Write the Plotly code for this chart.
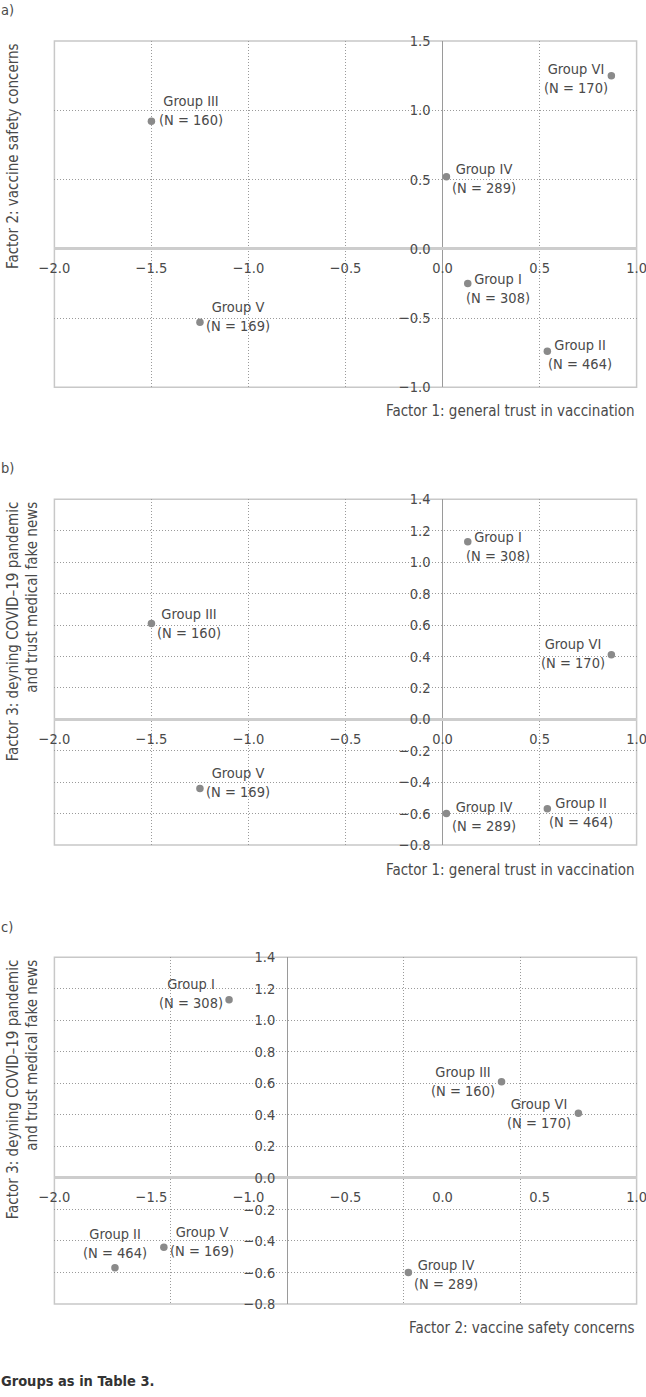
import plotly.graph_objects as go

# ---------------- data ----------------
groups = ["Group I", "Group II", "Group III", "Group IV", "Group V", "Group VI"]
n_sizes = [308, 464, 160, 289, 169, 170]
factor1 = [0.13, 0.54, -1.50, 0.02, -1.25, 0.87]
factor2 = [-0.25, -0.74, 0.92, 0.52, -0.53, 1.25]
factor3 = [1.13, -0.57, 0.61, -0.60, -0.44, 0.41]

title_f1 = "Factor 1: general trust in vaccination"
title_f2 = "Factor 2: vaccine safety concerns"
title_f3 = "Factor 3: deyning COVID–19 pandemic<br>and trust medical fake news"
caption = "Groups as in Table 3."

# ---------------- styling / layout ----------------
Wf, Hf = 646, 1397
FONT = "DejaVu Sans Condensed, Liberation Sans Narrow, sans-serif"
TXT = "#4a4a4a"
MARK = "#8a8a8a"
GRID = "#9a9a9a"
BORDER = "#c8c8c8"
FS = 14.5


def fx(px):   # pixel -> paper fraction (x)
    return px / Wf


def fy(py):   # pixel -> paper fraction (y)
    return 1 - py / Hf


plot_left, plot_right = 54.4, 636.6

panels = [
    dict(tag="a)", tag_y=10, x=factor1, y=factor2, xr=[-2.0, 1.0], yr=[-1.0, 1.5], ydt=0.5,
         top=41, bottom=387.3, xtitle=title_f1, xtitle_y=410.5, ytitle=title_f2,
         offs=[(30, 5), (33, 3.5), (40, -11), (38, 2), (38, -6), (-35, 3)],
         label_axis=None),
    dict(tag="b)", tag_y=468, x=factor1, y=factor3, xr=[-2.0, 1.0], yr=[-0.8, 1.4], ydt=0.2,
         top=499.3, bottom=845, xtitle=title_f1, xtitle_y=870, ytitle=title_f3,
         offs=[(30, 5), (34, 3.5), (38, 0), (38, 2.5), (38, -6), (-38, -1)],
         label_axis=None),
    dict(tag="c)", tag_y=927, x=factor2, y=factor3, xr=[-1.0, 1.5], yr=[-0.8, 1.4], ydt=0.2,
         top=957.3, bottom=1304, xtitle=title_f2, xtitle_y=1328, ytitle=title_f3,
         offs=[(-38, -6), (0, -24), (-39, 0), (37.5, 2), (38.5, -6), (-39, 0)],
         label_axis=[-2.0, 1.0]),
]

fig = go.Figure()
layout = dict(width=Wf, height=Hf, margin=dict(l=0, r=0, t=0, b=0, autoexpand=False),
              paper_bgcolor="white", plot_bgcolor="white", showlegend=False,
              font=dict(family=FONT, size=FS, color=TXT))
annotations = []
shapes = []

xdom = [fx(plot_left), fx(plot_right)]


def sfx(k):
    return "" if k == 1 else str(k)


tickfont = dict(family=FONT, size=FS, color=TXT)
griddash = "1px,2px"

for i, p in enumerate(panels, start=1):
    ydom = [fy(p["bottom"]), fy(p["top"])]
    x0frac = xdom[0] + (0 - p["xr"][0]) / (p["xr"][1] - p["xr"][0]) * (xdom[1] - xdom[0])
    y0frac = ydom[0] + (0 - p["yr"][0]) / (p["yr"][1] - p["yr"][0]) * (ydom[1] - ydom[0])
    xa, ya = f"x{sfx(i)}", f"y{sfx(i)}"
    xkey, ykey = f"xaxis{sfx(i)}", f"yaxis{sfx(i)}"

    fig.add_trace(go.Scatter(
        x=p["x"], y=p["y"], mode="markers", xaxis=xa, yaxis=ya,
        marker=dict(color=MARK, size=7.5), hoverinfo="skip"))

    show_x_labels = p["label_axis"] is None
    layout[xkey] = dict(domain=xdom, range=p["xr"], anchor="free", position=y0frac,
                        dtick=0.5, tick0=0, tickformat=".1f", automargin=False,
                        showgrid=True, gridcolor=GRID, griddash=griddash, gridwidth=1,
                        zeroline=True, zerolinecolor="#9a9a9a", zerolinewidth=1,
                        showline=False, ticks="", showticklabels=show_x_labels,
                        ticklabelstandoff=9, ticklabeloverflow="allow", tickfont=tickfont)
    layout[ykey] = dict(domain=ydom, range=p["yr"], anchor="free", position=x0frac,
                        dtick=p["ydt"], tick0=0, tickformat=".1f", automargin=False,
                        showgrid=True, gridcolor=GRID, griddash=griddash, gridwidth=1,
                        zeroline=True, zerolinecolor="#cdcdcd", zerolinewidth=2.5,
                        showline=False, ticks="", side="left",
                        ticklabelstandoff=12, ticklabeloverflow="allow", tickfont=tickfont)

    if p["label_axis"] is not None:
        # separate labelled axis overlaid on the data axis (as printed in the source)
        k = len(panels) + 1
        layout[f"xaxis{k}"] = dict(overlaying=xa, range=p["label_axis"], anchor="free",
                                   position=y0frac, dtick=0.5, tick0=0, tickformat=".1f",
                                   automargin=False,
                                   showgrid=False, zeroline=False, showline=False, ticks="",
                                   ticklabelstandoff=9, ticklabeloverflow="allow",
                                   tickfont=tickfont)
        fig.add_trace(go.Scatter(x=[], y=[], xaxis=f"x{k}", yaxis=ya, hoverinfo="skip"))

    shapes.append(dict(type="rect", xref=f"{xa} domain", yref=f"{ya} domain",
                       x0=0, x1=1, y0=0, y1=1, line=dict(color=BORDER, width=1.5),
                       layer="below"))

    # point labels
    for g, n, xv, yv, (dx, dy) in zip(groups, n_sizes, p["x"], p["y"], p["offs"]):
        annotations.append(dict(text=f"{g}<br>(N = {n})", x=xv, y=yv, xref=xa, yref=ya,
                                xanchor="center", yanchor="middle", xshift=dx, yshift=-dy,
                                showarrow=False, align="center",
                                font=dict(family=FONT, size=FS, color=TXT)))

    # axis titles
    annotations.append(dict(text=p["xtitle"], xref="paper", yref="paper",
                            x=fx(plot_right), y=fy(p["xtitle_y"]),
                            xanchor="right", yanchor="middle", showarrow=False,
                            font=dict(family=FONT, size=FS + 0.5, color=TXT)))
    annotations.append(dict(text=p["ytitle"], xref="paper", yref="paper",
                            x=fx(2), y=ydom[1],
                            xanchor="left", yanchor="top", textangle=-90,
                            align="right", showarrow=False,
                            font=dict(family=FONT, size=FS + 0.5, color=TXT)))
    # panel tag
    annotations.append(dict(text=p["tag"], xref="paper", yref="paper",
                            x=fx(-1), y=fy(p["tag_y"]), xanchor="left", yanchor="middle",
                            showarrow=False, font=dict(family=FONT, size=FS, color=TXT)))

annotations.append(dict(text=f"<b>{caption}</b>", xref="paper", yref="paper",
                        x=fx(-1), y=fy(1381), xanchor="left", yanchor="middle",
                        showarrow=False, font=dict(family=FONT, size=14.5, color="#333333")))

layout["annotations"] = annotations
layout["shapes"] = shapes
fig.update_layout(**layout)
fig.write_html("out.html", config={"displayModeBar": False},
               post_script="document.body.style.margin='0px';document.body.style.overflow='hidden';")
